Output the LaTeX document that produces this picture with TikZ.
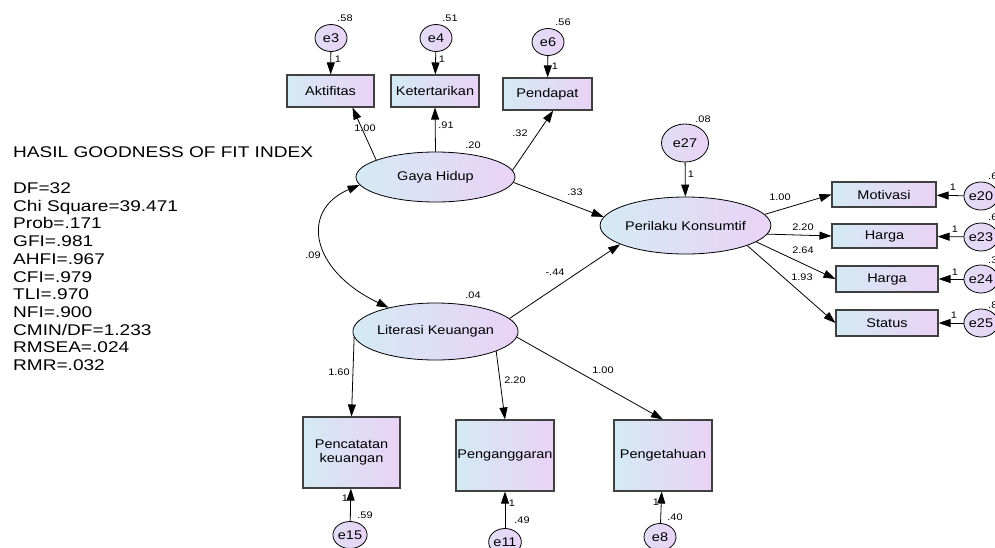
\documentclass[tikz,border=0pt]{standalone}
\usepackage{fontspec}
\setmainfont{Liberation Sans}[FakeStretch=1.15]
\newfontfamily\leftfont{Liberation Sans}[FakeStretch=1.23]
\usetikzlibrary{shapes.geometric,arrows.meta,calc}
\definecolor{lblue}{RGB}{212,234,244}
\definecolor{lpink}{RGB}{234,210,246}
\begin{document}
\begin{tikzpicture}[x=1pt,y=-1pt,
 obs/.style={draw=black!75, line width=1.1pt, left color=lblue, right color=lpink, inner sep=0, font=\fontsize{12.6}{13.5}\selectfont},
 lat/.style={ellipse, draw=black, line width=0.8pt, left color=lblue, right color=lpink, inner sep=0, font=\fontsize{12.6}{14}\selectfont},
 err/.style={ellipse, draw=black, line width=0.8pt, left color=lblue!50!lpink, right color=lpink, inner sep=0, minimum width=32, minimum height=27, font=\fontsize{12.6}{14}\selectfont},
 lab/.style={inner sep=0, font=\fontsize{9.5}{10}\selectfont},
 arr/.style={-{Triangle[length=12pt,width=8pt]}, line width=0.8pt},
 gof/.style={inner sep=0, font=\leftfont\fontsize{15.5}{17.7}\selectfont, anchor=base west}]
\useasboundingbox (0,0) rectangle (995,547);
\fill[white] (0,0) rectangle (995,547);

% left text
\node[gof] (title) at (13,157.5) {HASIL GOODNESS OF FIT INDEX};
\foreach \t [count=\i] in {DF=32,Chi Square=39.471,Prob=.171,GFI=.981,AHFI=.967,CFI=.979,TLI=.970,NFI=.900,CMIN/DF=1.233,RMSEA=.024,RMR=.032}
  \node[gof] (g\i) at (13,{193.5+(\i-1)*17.7}) {\t};

% nodes
\node[err] (e3) at (331,38) {e3};
\node[err] (e4) at (436,38) {e4};
\node[err] (e6) at (548,42) {e6};
\node[obs, minimum width=87, minimum height=32] (akt) at (330.5,91) {Aktifitas};
\node[obs, minimum width=88, minimum height=32] (ket) at (435,91) {Ketertarikan};
\node[obs, minimum width=89, minimum height=32] (pen) at (547.5,94) {Pendapat};
\node[lat, minimum width=159, minimum height=50] (gaya) at (435.5,177) {Gaya Hidup};
\node[err, minimum width=47, minimum height=38] (e27) at (685,143) {e27};
\node[lat, minimum width=137, minimum height=57] (per) at (685.5,225.5) {Perilaku Konsumtif};
\node[obs, minimum width=104, minimum height=25] (mot) at (884,194.5) {Motivasi};
\node[obs, minimum width=105, minimum height=24] (har1) at (884.5,236) {Harga};
\node[obs, minimum width=102, minimum height=26] (har2) at (887,279) {Harga};
\node[obs, minimum width=102, minimum height=26] (sta) at (887,323) {Status};
\node[err, minimum width=34, minimum height=28] (e20) at (981,196) {e20};
\node[err, minimum width=34, minimum height=28] (e23) at (981,237) {e23};
\node[err, minimum width=34, minimum height=28] (e24) at (981,279) {e24};
\node[err, minimum width=34, minimum height=28] (e25) at (981,323) {e25};
\node[lat, minimum width=165, minimum height=57] (lit) at (435.5,331.5) {Literasi Keuangan};
\node[obs, minimum width=97, minimum height=71, align=center] (pcat) at (351.5,452.5) {Pencatatan\\keuangan};
\node[obs, minimum width=98, minimum height=71] (pang) at (505,455.5) {Penganggaran};
\node[obs, minimum width=98, minimum height=71] (peng) at (663,455.5) {Pengetahuan};
\node[err] (e15) at (350,535) {e15};
\node[err] (e11) at (505,542) {e11};
\node[err] (e8) at (660,537) {e8};

% connectors
\draw[arr] (e3) -- (akt);
\draw[arr] (e4) -- (ket);
\draw[arr] (e6) -- (pen);
\draw[arr] (gaya.164) -- (akt.-37);
\draw[arr] (gaya.90) -- (ket.south);
\draw[arr] (gaya.5) -- (pen.-71);
\draw[arr] (gaya.-4) -- (per.174);
\draw[arr] (e27) -- (per);
\draw[arr] (per.8) -- (mot.west);
\draw[arr] (per.-6) -- (har1.west);
\draw[arr] (per.-13) -- (har2.west);
\draw[arr] (per.-18) -- (sta.west);
\draw[arr] (e20) -- (mot);
\draw[arr] (e23) -- (har1);
\draw[arr] (e24) -- (har2);
\draw[arr] (e25) -- (sta);
\draw[arr] (lit.10) -- (per.196);
\draw[arr] (lit.184) -- (pcat.north);
\draw[arr] (lit.-18) -- (pang.north);
\draw[arr] (lit.-4) -- (peng.north);
\draw[arr] (e15) -- (pcat);
\draw[arr] (e11) -- (pang);
\draw[arr] (e8) -- (peng);
\draw[{Triangle[length=12pt,width=8pt]}-{Triangle[length=12pt,width=8pt]}, line width=0.8pt]
  (gaya.186) .. controls (300,210) and (310,270) .. (lit.153);

% labels
\node[lab] (v3) at (345,18) {.58};
\node[lab] (v4) at (450,18) {.51};
\node[lab] (v6) at (563,22) {.56};
\node[lab] (o3) at (338,59) {1};
\node[lab] (o4) at (442,59) {1};
\node[lab] (o6) at (555,66) {1};
\node[lab] (c1) at (365,128) {1.00};
\node[lab] (c2) at (446,125) {.91};
\node[lab] (c3) at (520,133) {.32};
\node[lab] (vg) at (473,145) {.20};
\node[lab] (c4) at (575,192) {.33};
\node[lab] (c5) at (313,255) {.09};
\node[lab] (c6) at (555,272) {-.44};
\node[lab] (v27) at (703,119) {.08};
\node[lab] (o27) at (691,174) {1};
\node[lab] (c7) at (780,197) {1.00};
\node[lab] (c8) at (803,227) {2.20};
\node[lab] (c9) at (803,250) {2.64};
\node[lab] (c10) at (802,277) {1.93};
\node[lab] (o20) at (953,187) {1};
\node[lab] (o23) at (955,229) {1};
\node[lab] (o24) at (955,272) {1};
\node[lab] (o25) at (954,315) {1};
\node[lab, anchor=west] (v20) at (988,176) {.6};
\node[lab, anchor=west] (v23) at (988,217) {.6};
\node[lab, anchor=west] (v24) at (988,260) {.3};
\node[lab, anchor=west] (v25) at (988,305) {.8};
\node[lab] (vl) at (473,295) {.04};
\node[lab] (c11) at (339,372) {1.60};
\node[lab] (c12) at (515,380) {2.20};
\node[lab] (c13) at (603,370) {1.00};
\node[lab] (o15) at (345,498) {1};
\node[lab] (v15) at (365,515) {.59};
\node[lab] (o11) at (512,503) {1};
\node[lab] (v11) at (522,520) {.49};
\node[lab] (o8) at (656,502) {1};
\node[lab] (v8) at (675,517) {.40};
\end{tikzpicture}
\end{document}
